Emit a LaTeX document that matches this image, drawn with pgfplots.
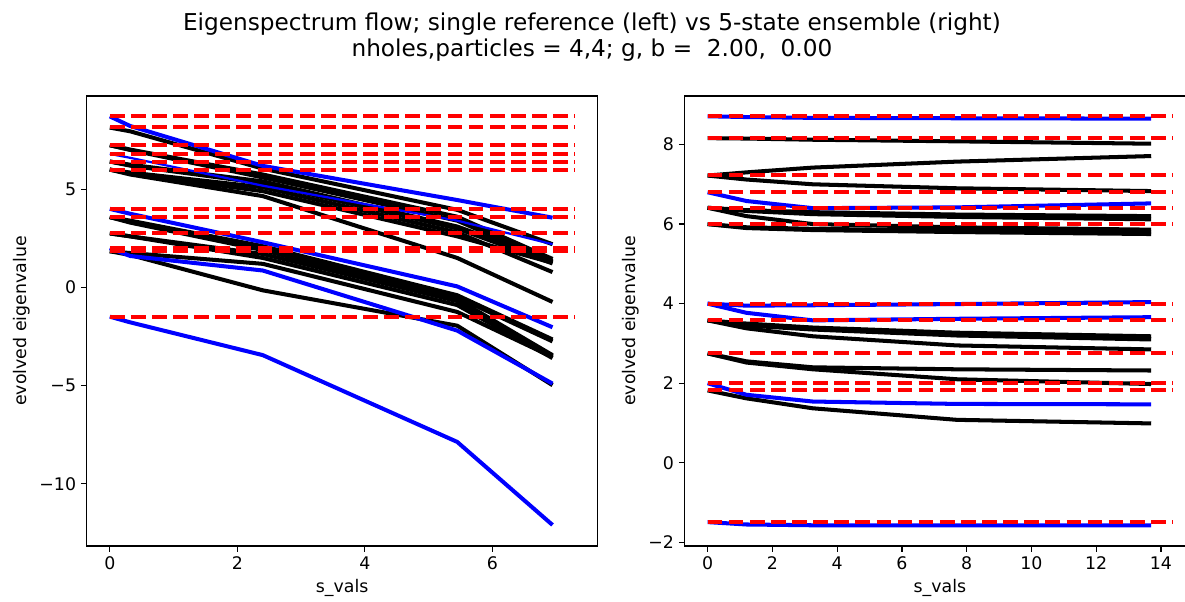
\documentclass[border=0pt]{standalone}
\usepackage{fontspec}
\setmainfont{DejaVu Sans}
\usepackage{pgfplots}
\pgfplotsset{compat=1.18}
\pgfplotsset{
  base/.style={
    scale only axis, width=368.1pt, height=324pt,
    anchor=south west,
    axis line style={line width=0.9pt},
    tick align=outside, xtick pos=bottom, ytick pos=left,
    major tick length=4pt,
    tick style={line width=0.9pt, black},
    ticklabel style={font=\fontsize{12.5}{14}\selectfont},
    label style={font=\fontsize{12.5}{14}\selectfont},
    /pgf/number format/assume math mode=true,
    xlabel={s\_vals}, ylabel={evolved eigenvalue},
    every axis plot/.append style={line join=round},
  },
  kline/.style={black, line width=2.9pt},
  bline/.style={blue, line width=2.9pt},
  rline/.style={red, line width=2.9pt, dash pattern=on 10.6pt off 4.6pt},
}
\begin{document}
\begin{tikzpicture}
\begin{axis}[base, at={(62.3pt,40.3pt)},
  xmin=-0.365, xmax=7.655, ymin=-13.17, ymax=9.75,
  xtick={0,2,4,6}, ytick={-10,-5,0,5}, yticklabels={−10,−5,0,5}]
% black lines
\addplot[kline] coordinates {(0,8.14) (0.32,7.95) (2.4,6.05) (5.45,3.95) (6.945,2.2)};
\addplot[kline] coordinates {(0,7.24) (0.32,7.02) (2.4,5.75) (5.45,3.6) (6.945,1.45)};
\addplot[kline] coordinates {(0,7.24) (0.32,7.0) (2.4,5.6) (5.45,3.4) (6.945,1.3)};
\addplot[kline] coordinates {(0,6.41) (0.32,6.25) (2.4,5.4) (5.45,3.1) (6.945,1.35)};
\addplot[kline] coordinates {(0,6.41) (0.32,6.2) (2.4,5.3) (5.45,3.0) (6.945,1.22)};
\addplot[kline] coordinates {(0,6.0) (0.32,5.85) (2.4,5.1) (5.45,2.8) (6.945,0.78)};
\addplot[kline] coordinates {(0,6.0) (0.32,5.8) (2.4,4.9) (5.45,2.6) (6.945,1.25)};
\addplot[kline] coordinates {(0,6.0) (0.32,5.75) (2.4,4.65) (5.45,1.5) (6.945,-0.74)};
\addplot[kline] coordinates {(0,3.58) (0.32,3.4) (2.4,2.1) (5.45,-0.4) (6.945,-2.65)};
\addplot[kline] coordinates {(0,3.58) (0.32,3.35) (2.4,2.0) (5.45,-0.5) (6.945,-2.75)};
\addplot[kline] coordinates {(0,3.58) (0.32,3.3) (2.4,1.9) (5.45,-0.6) (6.945,-3.45)};
\addplot[kline] coordinates {(0,2.75) (0.32,2.6) (2.4,1.7) (5.45,-0.7) (6.945,-3.5)};
\addplot[kline] coordinates {(0,2.75) (0.32,2.6) (2.4,1.5) (5.45,-0.9) (6.945,-3.6)};
\addplot[kline] coordinates {(0,1.84) (0.32,1.75) (2.4,1.2) (5.45,-1.25) (6.945,-3.55)};
\addplot[kline] coordinates {(0,1.84) (0.32,1.65) (2.4,-0.15) (5.45,-1.95) (6.945,-4.98)};
% blue lines
\addplot[bline] coordinates {(0,8.71) (0.32,8.22) (2.4,6.19) (5.45,4.45) (6.945,3.55)};
\addplot[blue, line width=1.6pt] coordinates {(0,6.8) (0.32,6.6) (2.4,5.18) (5.45,3.4) (6.945,2.2)};
\addplot[bline] coordinates {(0,4.0) (0.32,3.75) (2.4,2.3) (5.45,0.05) (6.945,-2.03)};
\addplot[bline] coordinates {(0,2.0) (0.32,1.6) (2.4,0.86) (5.45,-2.2) (6.945,-4.9)};
\addplot[bline] coordinates {(0,-1.49) (0.32,-1.78) (2.4,-3.45) (5.45,-7.87) (6.945,-12.1)};
% exact eigenvalues
\foreach \v in {8.71,8.16,7.23,6.80,6.41,6.00,4.00,3.58,2.75,2.00,1.84,-1.49}{
  \edef\tmp{\noexpand\addplot[rline] coordinates {(0,\v) (7.29,\v)};}\tmp
}
\end{axis}
\begin{axis}[base, at={(492.7pt,40.3pt)},
  xmin=-0.72, xmax=15.07, ymin=-2.09, ymax=9.22,
  xtick={0,2,...,14}, ytick={-2,0,2,4,6,8}, yticklabels={−2,0,2,4,6,8}]
\addplot[kline] coordinates {(0,8.16) (1.2,8.15) (3.25,8.12) (7.7,8.08) (13.7,8.02)};
\addplot[kline] coordinates {(0,7.22) (1.2,7.3) (3.25,7.42) (7.7,7.57) (13.7,7.71)};
\addplot[kline] coordinates {(0,7.22) (1.2,7.12) (3.25,7.0) (7.7,6.9) (13.7,6.83)};
\addplot[kline] coordinates {(0,6.41) (1.2,6.35) (3.25,6.3) (7.7,6.24) (13.7,6.2)};
\addplot[kline] coordinates {(0,6.41) (1.2,6.33) (3.25,6.25) (7.7,6.18) (13.7,6.12)};
\addplot[kline] coordinates {(0,6.41) (1.2,6.2) (3.25,6.0) (7.7,5.92) (13.7,5.86)};
\addplot[kline] coordinates {(0,6.00) (1.2,5.92) (3.25,5.88) (7.7,5.84) (13.7,5.8)};
\addplot[kline] coordinates {(0,6.00) (1.2,5.9) (3.25,5.85) (7.7,5.8) (13.7,5.75)};
\addplot[kline] coordinates {(0,3.58) (1.2,3.5) (3.25,3.4) (7.7,3.27) (13.7,3.18)};
\addplot[kline] coordinates {(0,3.58) (1.2,3.45) (3.25,3.35) (7.7,3.2) (13.7,3.1)};
\addplot[kline] coordinates {(0,3.58) (1.2,3.38) (3.25,3.18) (7.7,2.95) (13.7,2.85)};
\addplot[kline] coordinates {(0,2.75) (1.2,2.55) (3.25,2.4) (7.7,2.35) (13.7,2.32)};
\addplot[kline] coordinates {(0,2.75) (1.2,2.52) (3.25,2.35) (7.7,2.1) (13.7,1.98)};
\addplot[kline] coordinates {(0,1.82) (1.2,1.62) (3.25,1.37) (7.7,1.08) (13.7,0.99)};
\addplot[bline] coordinates {(0,8.71) (1.2,8.69) (3.25,8.67) (7.7,8.66) (13.7,8.65)};
\addplot[bline] coordinates {(0,6.80) (1.2,6.58) (3.25,6.40) (7.7,6.42) (13.7,6.52)};
\addplot[bline] coordinates {(0,4.00) (1.2,3.95) (3.25,3.96) (7.7,3.99) (13.7,4.04)};
\addplot[bline] coordinates {(0,4.00) (1.2,3.77) (3.25,3.58) (7.7,3.62) (13.7,3.66)};
\addplot[bline] coordinates {(0,2.00) (1.2,1.71) (3.25,1.54) (7.7,1.48) (13.7,1.47)};
\addplot[bline] coordinates {(0,-1.49) (1.2,-1.55) (3.25,-1.57) (7.7,-1.57) (13.7,-1.57)};
\foreach \v in {8.71,8.16,7.23,6.80,6.41,6.00,4.00,3.58,2.75,2.00,1.84,-1.49}{
  \edef\tmp{\noexpand\addplot[rline] coordinates {(0,\v) (14.38,\v)};}\tmp
}
\end{axis}
\node[font=\fontsize{16.7}{19}\selectfont] at (426.2pt,416.2pt) {Eigenspectrum flow; single reference (left) vs 5-state ensemble (right)};
\node[font=\fontsize{16.7}{19}\selectfont] at (426.2pt,397.4pt) {nholes,particles = 4,4; g, b = \ 2.00, \ 0.00};
\pgfresetboundingbox
\path[use as bounding box] (0,0) rectangle (853.2pt,433.4pt);
\end{tikzpicture}
\end{document}
